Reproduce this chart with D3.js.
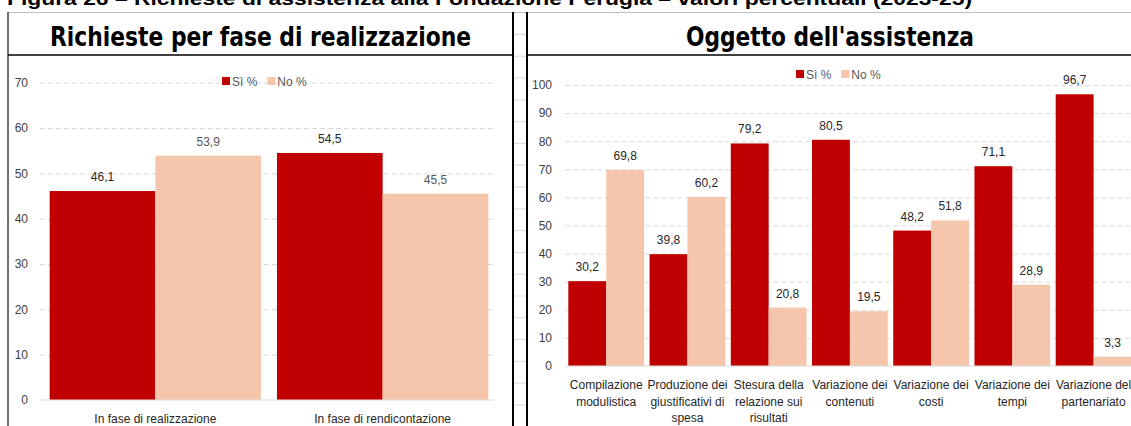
<!DOCTYPE html>
<html>
<head>
<meta charset="utf-8">
<script src="https://cdn.jsdelivr.net/npm/d3@7"></script>
<style>
  body { margin: 0; background: #fff; }
  svg { display: block; }
  text { font-family: "Liberation Sans", Arial, sans-serif; }
</style>
</head>
<body>
<div class="chart"></div>
<script>
var svgWidth = 1131;
var svgHeight = 426;

// data
var seriesNames = ["Sì %", "No %"];
var seriesColors = ["#C00000", "#F5C6AB"];

var leftCategories = ["In fase di realizzazione", "In fase di rendicontazione"];
var leftSi = [46.1, 54.5];
var leftNo = [53.9, 45.5];
var leftTicks = [0, 10, 20, 30, 40, 50, 60, 70];

var rightCategories = ["Compilazione modulistica", "Produzione dei giustificativi di spesa",
    "Stesura della relazione sui risultati", "Variazione dei contenuti",
    "Variazione dei costi", "Variazione dei tempi", "Variazione del partenariato"];
var rightSi = [30.2, 39.8, 79.2, 80.5, 48.2, 71.1, 96.7];
var rightNo = [69.8, 60.2, 20.8, 19.5, 51.8, 28.9, 3.3];
var rightTicks = [0, 10, 20, 30, 40, 50, 60, 70, 80, 90, 100];

var caption = "Figura 26 – Richieste di assistenza alla Fondazione Perugia – valori percentuali (2023-25)";

var itLocale = d3.formatLocale({decimal: ",", thousands: ".", grouping: [3], currency: ["€", ""]});
var fmt = itLocale.format(".1f");

var svg = d3.select(".chart")
    .append("svg")
    .attr("width", svgWidth)
    .attr("height", svgHeight);

// faint spreadsheet rows in the gap between the two charts
var rowLines = d3.range(12.6, 426, 21.8);
svg.selectAll(".row")
    .data(rowLines)
    .enter().append("line")
    .attr("x1", 513).attr("x2", 527)
    .attr("y1", d => d).attr("y2", d => d)
    .attr("stroke", "#d9d9d9");

// caption (cut at the top)
svg.append("text")
    .attr("x", 7).attr("y", 5)
    .attr("font-size", 19)
    .attr("font-weight", "bold")
    .attr("textLength", 965)
    .attr("lengthAdjust", "spacingAndGlyphs")
    .attr("fill", "#000")
    .text(caption);

// frame lines
svg.append("line").attr("x1", 8).attr("x2", 1131).attr("y1", 12.5).attr("y2", 12.5)
    .attr("stroke", "#bfbfbf");
svg.append("line").attr("x1", 8).attr("x2", 8).attr("y1", 12).attr("y2", 426)
    .attr("stroke", "#404040").attr("stroke-width", 1.5);
svg.append("line").attr("x1", 513).attr("x2", 513).attr("y1", 12).attr("y2", 426)
    .attr("stroke", "#000").attr("stroke-width", 2);
svg.append("line").attr("x1", 527).attr("x2", 527).attr("y1", 12).attr("y2", 426)
    .attr("stroke", "#000").attr("stroke-width", 2);
svg.append("line").attr("x1", 8).attr("x2", 513).attr("y1", 55).attr("y2", 55)
    .attr("stroke", "#000").attr("stroke-width", 1.5);
svg.append("line").attr("x1", 527).attr("x2", 1131).attr("y1", 55).attr("y2", 55)
    .attr("stroke", "#000").attr("stroke-width", 1.5);

function title(txt, cx, len) {
    svg.append("text")
        .attr("x", cx).attr("y", 46)
        .attr("text-anchor", "middle")
        .attr("font-size", 26)
        .attr("font-weight", "bold")
        .style("font-family", "'Liberation Sans Narrow', 'DejaVu Sans Condensed', sans-serif")
        .attr("textLength", len)
        .attr("lengthAdjust", "spacingAndGlyphs")
        .attr("fill", "#000")
        .text(txt);
}
title("Richieste per fase di realizzazione", 260.5, 421);
title("Oggetto dell'assistenza", 830, 288);

// wrap long category labels (all offsets in px)
function wrap(sel, width, lineH, firstDy) {
    sel.each(function() {
        var text = d3.select(this);
        var words = text.text().split(/\s+/);
        var y = text.attr("y");
        text.text(null).attr("dy", null);
        var line = [];
        var lineNo = 0;
        var tspan = text.append("tspan").attr("x", 0).attr("y", y).attr("dy", firstDy);
        words.forEach(function(w) {
            line.push(w);
            tspan.text(line.join(" "));
            if (tspan.node().getComputedTextLength() > width && line.length > 1) {
                line.pop();
                tspan.text(line.join(" "));
                line = [w];
                lineNo++;
                tspan = text.append("tspan").attr("x", 0).attr("y", y)
                    .attr("dy", firstDy + lineNo * lineH).text(w);
            }
        });
    });
}

function drawChart(opt) {
    var g = svg.append("g");
    var y = d3.scaleLinear().domain([0, opt.yMax]).range([opt.y0, opt.yTop]);
    var x0 = d3.scaleBand().domain(opt.categories).range(opt.xRange)
        .paddingInner(opt.padIn).paddingOuter(opt.padIn / 2);
    var x1 = d3.scaleBand().domain([0, 1]).range([0, x0.bandwidth()]);

    // dashed gridlines
    var grid = g.append("g")
        .attr("transform", `translate(${opt.gridX0}, 0)`)
        .call(d3.axisLeft(y).tickValues(opt.ticks.filter(t => t > 0))
            .tickSize(-(opt.gridX1 - opt.gridX0)).tickFormat(""));
    grid.select(".domain").remove();
    grid.selectAll("line").attr("stroke", "#d9d9d9").attr("stroke-dasharray", "5,3");

    // y tick labels
    var yAxis = g.append("g")
        .attr("transform", `translate(${opt.labelX}, 0)`)
        .call(d3.axisLeft(y).tickValues(opt.ticks).tickSize(0).tickPadding(0));
    yAxis.select(".domain").remove();
    yAxis.selectAll("text")
        .attr("font-size", 12)
        .attr("fill", "#404040")
        .style("font-family", "'Liberation Sans', Arial, sans-serif");

    // bars
    var rows = opt.categories.map((c, i) => ({cat: c, vals: [opt.si[i], opt.no[i]]}));
    var groups = g.selectAll(".grp")
        .data(rows)
        .enter().append("g")
        .attr("transform", d => `translate(${x0(d.cat)}, 0)`);

    groups.selectAll("rect")
        .data(d => d.vals)
        .enter().append("rect")
        .attr("x", (d, i) => x1(i))
        .attr("width", x1.bandwidth())
        .attr("y", d => y(d))
        .attr("height", d => y(0) - y(d))
        .attr("fill", (d, i) => seriesColors[i]);

    groups.selectAll(".val")
        .data(d => d.vals)
        .enter().append("text")
        .attr("x", (d, i) => x1(i) + x1.bandwidth() / 2)
        .attr("y", d => y(d) - 10)
        .attr("text-anchor", "middle")
        .attr("font-size", 12)
        .attr("fill", (d, i) => opt.valColors[i])
        .text(d => fmt(d));

    // baseline
    g.append("line")
        .attr("x1", opt.gridX0).attr("x2", opt.gridX1)
        .attr("y1", y(0)).attr("y2", y(0))
        .attr("stroke", "#d9d9d9");

    // x axis labels
    var xAxis = g.append("g")
        .attr("transform", `translate(0, ${y(0)})`)
        .call(d3.axisBottom(x0).tickSize(0).tickPadding(opt.xPad));
    xAxis.select(".domain").remove();
    xAxis.selectAll("text")
        .attr("font-size", 12)
        .attr("fill", "#262626")
        .style("font-family", "'Liberation Sans', Arial, sans-serif")
        .call(wrap, x0.step() + 1, 16.5, 9);

    // legend
    var leg = g.append("g").attr("transform", `translate(${opt.legX}, ${opt.legY})`);
    var legX = 0;
    seriesNames.forEach(function(name, i) {
        leg.append("rect")
            .attr("x", legX).attr("y", -4)
            .attr("width", 8).attr("height", 8)
            .attr("fill", seriesColors[i]);
        var t = leg.append("text")
            .attr("x", legX + 10).attr("y", 4.5)
            .attr("font-size", 12)
            .attr("fill", "#595959")
            .text(name);
        legX += 10 + t.node().getComputedTextLength() + 10;
    });
}

drawChart({
    categories: leftCategories, si: leftSi, no: leftNo, ticks: leftTicks, yMax: 70,
    y0: 400, yTop: 82.7, xRange: [41.7, 496.3], padIn: 0.07,
    gridX0: 40, gridX1: 494, labelX: 28, xPad: 14,
    valColors: ["#262626", "#595959"],
    legX: 222, legY: 81
});

drawChart({
    categories: rightCategories, si: rightSi, no: rightNo, ticks: rightTicks, yMax: 100,
    y0: 366, yTop: 85, xRange: [565.6, 1134.2], padIn: 0.067,
    gridX0: 565, gridX1: 1131, labelX: 552, xPad: 14,
    valColors: ["#262626", "#262626"],
    legX: 796, legY: 74
});
</script>
</body>
</html>
